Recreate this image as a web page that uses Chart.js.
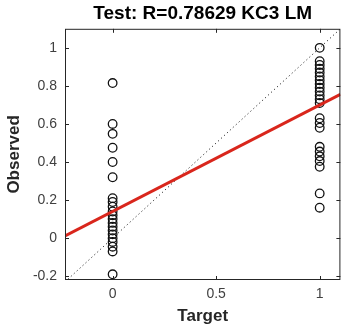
<!DOCTYPE html>
<html lang="en">
<head>
<meta charset="UTF-8">
<title>Test regression</title>
<style>
  html, body { margin: 0; background: #fff; overflow: hidden; }
  .chart-container { width: 346px; height: 331px; }
</style>
</head>
<body>
<div class="chart-container">
  <canvas id="myChart" width="346" height="331"></canvas>
</div>
<script src="https://cdn.jsdelivr.net/npm/chart.js"></script>
<script>
// observed outputs, grouped by target value
const obsTarget0 = [0.815, 0.60, 0.548, 0.475, 0.40, 0.32, 0.21, 0.19, 0.165, 0.14, 0.12,
                    0.10, 0.08, 0.06, 0.04, 0.02, 0.0, -0.02, -0.045, -0.07, -0.19];
const obsTarget1 = [1.0, 0.93, 0.91, 0.89, 0.87, 0.85, 0.83, 0.81, 0.79, 0.77, 0.75, 0.73, 0.71,
                    0.63, 0.605, 0.58, 0.48, 0.455, 0.43, 0.405, 0.375, 0.235, 0.16];
// fit line and Y = T endpoints
const fitX = [-0.23, 1.1];
const fitY = [0.012, 0.755];
const idX = [-0.23, 1.1];
const idY = [-0.23, 1.1];
// axis ticks
const xTicks = [0, 0.5, 1];
const yTicks = [-0.2, 0, 0.2, 0.4, 0.6, 0.8, 1];

const font = 'Arial, "Liberation Sans", sans-serif';
const axisColor = '#262626';

const points = obsTarget0.map(v => ({ x: 0, y: v }))
  .concat(obsTarget1.map(v => ({ x: 1, y: v })));

// MATLAB-like box with inward ticks
const boxPlugin = {
  id: 'box',
  afterDraw(chart) {
    const { ctx, chartArea: a, scales } = chart;
    ctx.save();
    ctx.strokeStyle = axisColor;
    ctx.lineWidth = 1;
    ctx.strokeRect(a.left + 0.5, a.top + 0.5, a.right - a.left - 1, a.bottom - a.top - 1);
    ctx.beginPath();
    xTicks.forEach(v => {
      const px = Math.round(scales.x.getPixelForValue(v)) + 0.5;
      ctx.moveTo(px, a.bottom); ctx.lineTo(px, a.bottom - 4);
      ctx.moveTo(px, a.top); ctx.lineTo(px, a.top + 4);
    });
    yTicks.forEach(v => {
      const py = Math.round(scales.y.getPixelForValue(v)) + 0.5;
      ctx.moveTo(a.left, py); ctx.lineTo(a.left + 4, py);
      ctx.moveTo(a.right, py); ctx.lineTo(a.right - 4, py);
    });
    ctx.stroke();
    ctx.restore();
  }
};

const ctx = document.getElementById('myChart').getContext('2d');
new Chart(ctx, {
  type: 'scatter',
  data: {
    datasets: [
      {
        label: 'Fit',
        data: fitX.map((x, i) => ({ x: x, y: fitY[i] })),
        showLine: true,
        borderColor: '#d9261c',
        borderWidth: 3,
        pointRadius: 0,
        order: 0
      },
      {
        label: 'Y = T',
        data: idX.map((x, i) => ({ x: x, y: idY[i] })),
        showLine: true,
        borderColor: '#000',
        borderWidth: 1,
        borderDash: [1, 3],
        pointRadius: 0,
        order: 1
      },
      {
        label: 'Data',
        data: points,
        pointStyle: 'circle',
        pointRadius: 4.3,
        borderColor: '#111',
        borderWidth: 1.3,
        backgroundColor: 'rgba(0,0,0,0)',
        order: 2
      }
    ]
  },
  options: {
    responsive: false,
    animation: false,
    devicePixelRatio: 1,
    layout: { padding: { left: 0, right: 0, top: 0, bottom: 0 } },
    plugins: {
      legend: { display: false },
      tooltip: { enabled: false },
      title: {
        display: true,
        fullSize: false,
        text: 'Test: R=0.78629 KC3 LM',
        color: '#000',
        font: { family: font, size: 19, weight: 'bold' },
        padding: { top: 2, bottom: 4 }
      }
    },
    scales: {
      x: {
        type: 'linear',
        min: -0.23,
        max: 1.1,
        afterBuildTicks: s => { s.ticks = xTicks.map(v => ({ value: v })); },
        afterFit: s => { s.height = 51; },
        grid: { display: false, drawTicks: false },
        border: { display: false },
        ticks: {
          color: '#404040',
          padding: 6,
          font: { family: font, size: 14 },
          callback: v => String(v)
        },
        title: {
          display: true,
          text: 'Target',
          color: '#262626',
          font: { family: font, size: 17, weight: 'bold' },
          padding: { top: 0, bottom: 4 }
        }
      },
      y: {
        type: 'linear',
        min: -0.22,
        max: 1.1,
        afterBuildTicks: s => { s.ticks = yTicks.map(v => ({ value: v })); },
        afterFit: s => { s.width = 65; },
        grid: { display: false, drawTicks: false },
        border: { display: false },
        ticks: {
          color: '#404040',
          padding: 8,
          font: { family: font, size: 14 },
          callback: v => String(Math.round(v * 10) / 10)
        },
        title: {
          display: true,
          text: 'Observed',
          color: '#262626',
          font: { family: font, size: 17, weight: 'bold' },
          padding: { top: 4, bottom: 0 }
        }
      }
    }
  },
  plugins: [boxPlugin]
});
</script>
</body>
</html>
